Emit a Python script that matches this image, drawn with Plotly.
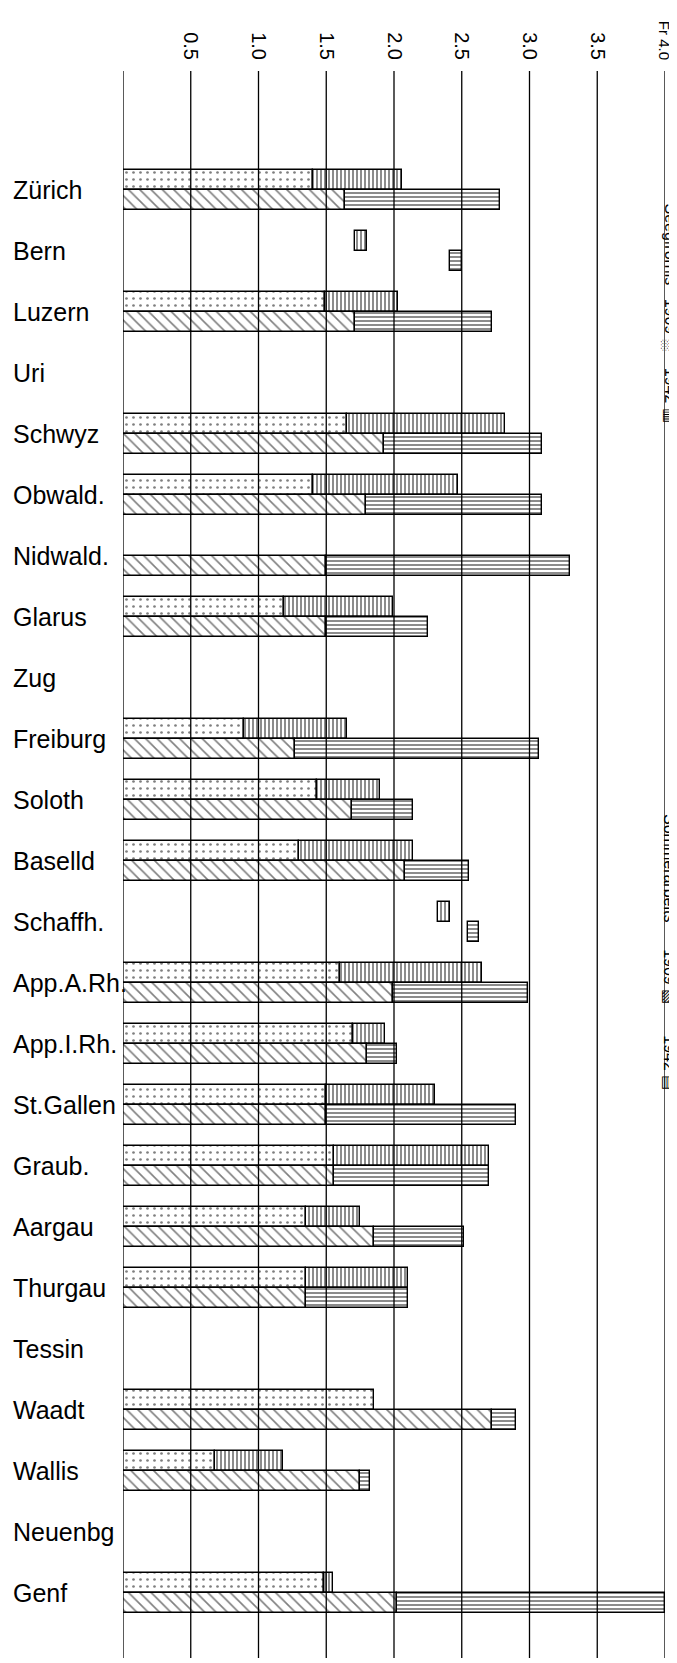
import plotly.graph_objects as go

cantons = ["Zürich", "Bern", "Luzern", "Uri", "Schwyz", "Obwald.", "Nidwald.", "Glarus",
           "Zug", "Freiburg", "Soloth", "Baselld", "Schaffh.", "App.A.Rh.", "App.I.Rh.",
           "St.Gallen", "Graub.", "Aargau", "Thurgau", "Tessin", "Waadt", "Wallis",
           "Neuenbg", "Genf"]

# upper bar of each canton: 1909 (dotted) and 1942 (vertical hatch)
upper_1909 = [1.40, None, 1.49, None, 1.65, 1.40, None, 1.19, None, 0.89, 1.435, 1.30,
              None, 1.60, 1.70, 1.50, 1.56, 1.35, 1.35, None, 1.85, 0.68, None, 1.48]
upper_1942 = [2.06, 1.80, 2.03, None, 2.82, 2.47, None, 1.99, None, 1.65, 1.90, 2.14,
              2.41, 2.65, 1.93, 2.30, 2.70, 1.75, 2.10, None, None, 1.18, None, 1.55]
# lower bar of each canton: 1909 (diagonal hatch) and 1942 (horizontal hatch)
lower_1909 = [1.64, None, 1.71, None, 1.925, 1.79, 1.50, 1.50, None, 1.27, 1.69, 2.08,
              None, 1.99, 1.80, 1.50, 1.56, 1.85, 1.35, None, 2.72, 1.75, None, 2.02]
lower_1942 = [2.78, 2.50, 2.72, None, 3.09, 3.09, 3.30, 2.25, None, 3.07, 2.14, 2.55,
              2.63, 2.99, 2.02, 2.90, 2.70, 2.52, 2.10, None, 2.90, 1.82, None, 4.00]

tick_vals = [0, 0.5, 1.0, 1.5, 2.0, 2.5, 3.0, 3.5, 4.0]
tick_text = ["", "0.5", "1.0", "1.5", "2.0", "2.5", "3.0", "3.5",
             "<span style='font-size:15px'>Fr 4.0</span>"]

legend_upper = "Seegfrörnis   1909 ░    1942 ▥"
legend_lower = "Sommerarbeits      1909 ▧       1942 ▤"

MARK_W = 0.085   # width of an isolated 1942 marker (no 1909 value)
BAR_H = 0.33
FONT = "Liberation Sans, Arial, sans-serif"

W, H = 677, 1663
M_L, M_R, M_T, M_B = 115, 20, 63, 13
ROW0_PX, ROW_PX = 182, 61.0
plot_h = H - M_T - M_B
plot_w = W - M_L - M_R
y_top = -(ROW0_PX - M_T) / ROW_PX
y_bot = y_top + plot_h / ROW_PX

fig = go.Figure()


def add_pair(v1909, v1942, offset, pat1909, pat1942, name1909, name1942):
    ys, xs = [], []
    ys2, xs2, bs2 = [], [], []
    for i, (a, b) in enumerate(zip(v1909, v1942)):
        if a is not None:
            ys.append(i + offset)
            xs.append(a)
        if b is not None:
            base = a if a is not None else b - MARK_W
            ys2.append(i + offset)
            xs2.append(b - base)
            bs2.append(base)
    line = dict(color="black", width=1.4)
    fig.add_trace(go.Bar(orientation="h", y=ys, x=xs, base=0, width=BAR_H, name=name1909,
                         marker=dict(color="white", line=line, pattern=pat1909)))
    fig.add_trace(go.Bar(orientation="h", y=ys2, x=xs2, base=bs2, width=BAR_H, name=name1942,
                         marker=dict(color="white", line=line, pattern=pat1942)))


pat_dot = dict(shape=".", fgcolor="black", bgcolor="white", size=7, solidity=0.12)
pat_vert = dict(shape="|", fgcolor="black", bgcolor="white", size=4, solidity=0.45)
pat_diag = dict(shape="\\", fgcolor="black", bgcolor="white", size=8, solidity=0.2)
pat_hor = dict(shape="-", fgcolor="black", bgcolor="white", size=4, solidity=0.45)

add_pair(upper_1909, upper_1942, -BAR_H / 2, pat_dot, pat_vert, "1909 (upper)", "1942 (upper)")
add_pair(lower_1909, lower_1942, BAR_H / 2, pat_diag, pat_hor, "1909 (lower)", "1942 (lower)")

for tv in tick_vals:
    fig.add_shape(type="line", xref="x", yref="paper", x0=tv, x1=tv, y0=0, y1=1,
                  line=dict(color="black", width=1.3), layer="above")

for i, c in enumerate(cantons):
    fig.add_annotation(text=c, xref="paper", yref="y", x=(3 - M_L) / plot_w, y=i,
                       xanchor="left", yanchor="middle", showarrow=False,
                       font=dict(family=FONT, size=25, color="black"))

for txt, y_px in [(legend_upper, 194), (legend_lower, 805)]:
    fig.add_annotation(text=txt, textangle=90, xref="paper", yref="paper",
                       x=(662 - M_L) / plot_w, y=1 - (y_px - M_T) / plot_h,
                       xanchor="center", yanchor="top", showarrow=False, borderpad=0,
                       font=dict(family=FONT, size=16, color="black"))

fig.update_layout(
    width=W, height=H,
    margin=dict(l=M_L, r=M_R, t=M_T, b=M_B),
    paper_bgcolor="white", plot_bgcolor="white",
    barmode="overlay", bargap=0, showlegend=False,
    xaxis=dict(range=[0, 4], side="top", tickvals=tick_vals, ticktext=tick_text,
               tickangle=90, showgrid=False, zeroline=False, showline=False, ticks="",
               automargin=False, ticklabelstandoff=7,
               tickfont=dict(family=FONT, size=20, color="black")),
    yaxis=dict(range=[y_bot, y_top], showticklabels=False, showgrid=False,
               zeroline=False, showline=False, ticks="", automargin=False),
)

fig.write_html("out.html")
